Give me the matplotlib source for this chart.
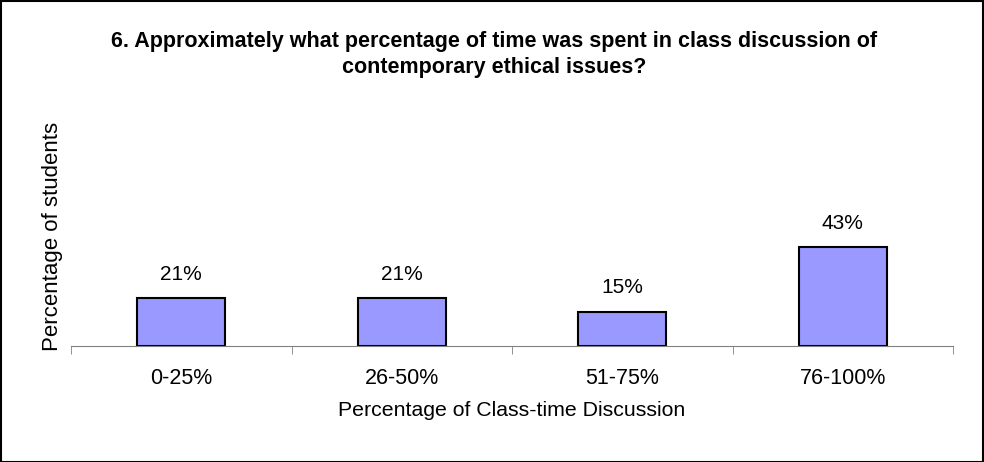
import numpy as np
import matplotlib.pyplot as plt
from matplotlib.patches import Rectangle

# Datos
categories = ['0-25%', '26-50%', '51-75%', '76-100%']
values = [21, 21, 15, 43]
labels = ['21%', '21%', '15%', '43%']

plt.rcParams['font.family'] = ['Liberation Sans', 'DejaVu Sans']

fig = plt.figure(figsize=(9.84, 4.62), dpi=100)
ax = fig.add_axes([71/984, 116/462, 882/984, 230/462])

x = np.arange(len(categories))
bars = ax.bar(x, values, width=0.4, color='#9999FF', edgecolor='black', linewidth=1.5)

for b, lab in zip(bars, labels):
    ax.annotate(lab, (b.get_x() + b.get_width()/2, b.get_height()),
                xytext=(0, 17), textcoords='offset points',
                ha='center', va='center', fontsize=15)

ax.set_xlim(-0.5, len(categories) - 0.5)
ax.set_ylim(0, 100)

ax.set_xticks(x)
ax.set_xticklabels(categories, fontsize=15.5)
ax.set_xticks(np.arange(len(categories) + 1) - 0.5, minor=True)
ax.tick_params(axis='x', which='major', length=0, pad=16)
ax.tick_params(axis='x', which='minor', length=6, color='#808080')
ax.set_yticks([])

for s in ['top', 'right', 'left']:
    ax.spines[s].set_visible(False)
ax.spines['bottom'].set_color('#808080')

ax.set_xlabel('Percentage of Class-time Discussion', fontsize=15.3, labelpad=8.5)
ax.set_ylabel('Percentage of students', fontsize=16)
ax.yaxis.set_label_coords(-8/882, 0.476)

fig.text(494/984, 1 - 41/462, '6. Approximately what percentage of time was spent in class discussion of',
         ha='center', va='center', fontsize=15.5, fontweight='bold')
fig.text(494/984, 1 - 67/462, 'contemporary ethical issues?',
         ha='center', va='center', fontsize=15.5, fontweight='bold')

fig.patches.append(Rectangle((0.001, 0.001), 0.998, 0.997, transform=fig.transFigure,
                             fill=False, edgecolor='black', linewidth=1.5))

fig.savefig('out.png', dpi=100)
